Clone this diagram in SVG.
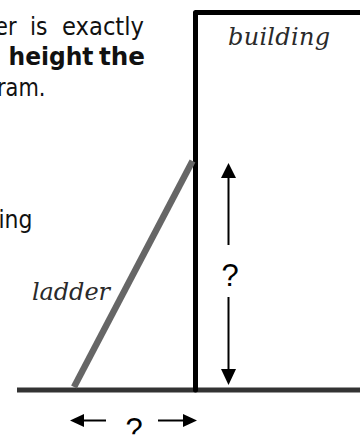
<svg xmlns="http://www.w3.org/2000/svg" width="360" height="437" viewBox="0 0 360 437">
<style>
.txt{font-family:"DejaVu Sans","Liberation Sans",sans-serif;font-size:24px;fill:#111}
.bold{font-weight:bold}
.lbl{font-family:"DejaVu Serif","Liberation Serif",serif;font-style:italic;font-size:24px;fill:#2a2a2a}
.q{font-family:"Liberation Sans",Arial,sans-serif;font-size:31px;fill:#000;text-anchor:middle}
.arr{stroke:#000;stroke-width:2;fill:none}
.head{fill:#000}
</style>
<rect width="360" height="437" fill="#fff"/>
<g id="paragraph">
<text class="txt" x="-5" y="35" textLength="21.5" lengthAdjust="spacingAndGlyphs">er</text>
<text class="txt" x="30" y="35" textLength="17.5" lengthAdjust="spacingAndGlyphs">is</text>
<text class="txt" x="62" y="35" textLength="82" lengthAdjust="spacingAndGlyphs">exactly</text>
<text class="txt bold" x="8.5" y="65" textLength="85" lengthAdjust="spacingAndGlyphs">height</text>
<text class="txt bold" x="99" y="65" textLength="46" lengthAdjust="spacingAndGlyphs">the</text>
<text class="txt" x="-3" y="95.5" textLength="48.5" lengthAdjust="spacingAndGlyphs">ram.</text>
<text class="txt" x="-1.5" y="228.3" textLength="34" lengthAdjust="spacingAndGlyphs">ing</text>
</g>
<g id="ground">
<line x1="17" y1="390" x2="360" y2="390" stroke="#333" stroke-width="5"/>
</g>
<g id="building">
<polyline points="195.5,390 195.5,12.5 360,12.5" fill="none" stroke="#000" stroke-width="5" stroke-linejoin="round" stroke-linecap="round"/>
<text class="lbl" x="228" y="45" textLength="102">building</text>
</g>
<g id="ladder">
<line x1="74" y1="387" x2="192.5" y2="161" stroke="#666" stroke-width="6.5"/>
<text class="lbl" x="32" y="300" textLength="78">ladder</text>
</g>
<g id="connectors">
<line class="arr" x1="228.5" y1="177" x2="228.5" y2="245"/>
<polygon class="head" points="228.5,163 221,178 236,178"/>
<line class="arr" x1="228.5" y1="297" x2="228.5" y2="370"/>
<polygon class="head" points="228.5,385 221,369 236,369"/>
<line class="arr" x1="83" y1="420.5" x2="106" y2="420.5"/>
<polygon class="head" points="70,420.5 84,414 84,427"/>
<line class="arr" x1="158" y1="420.5" x2="184" y2="420.5"/>
<polygon class="head" points="197,420.5 183,414 183,427"/>
</g>
<g id="height-label">
<text class="q" x="230" y="285.5">?</text>
</g>
<g id="distance-label">
<text class="q" x="134" y="439.5">?</text>
</g>
</svg>
